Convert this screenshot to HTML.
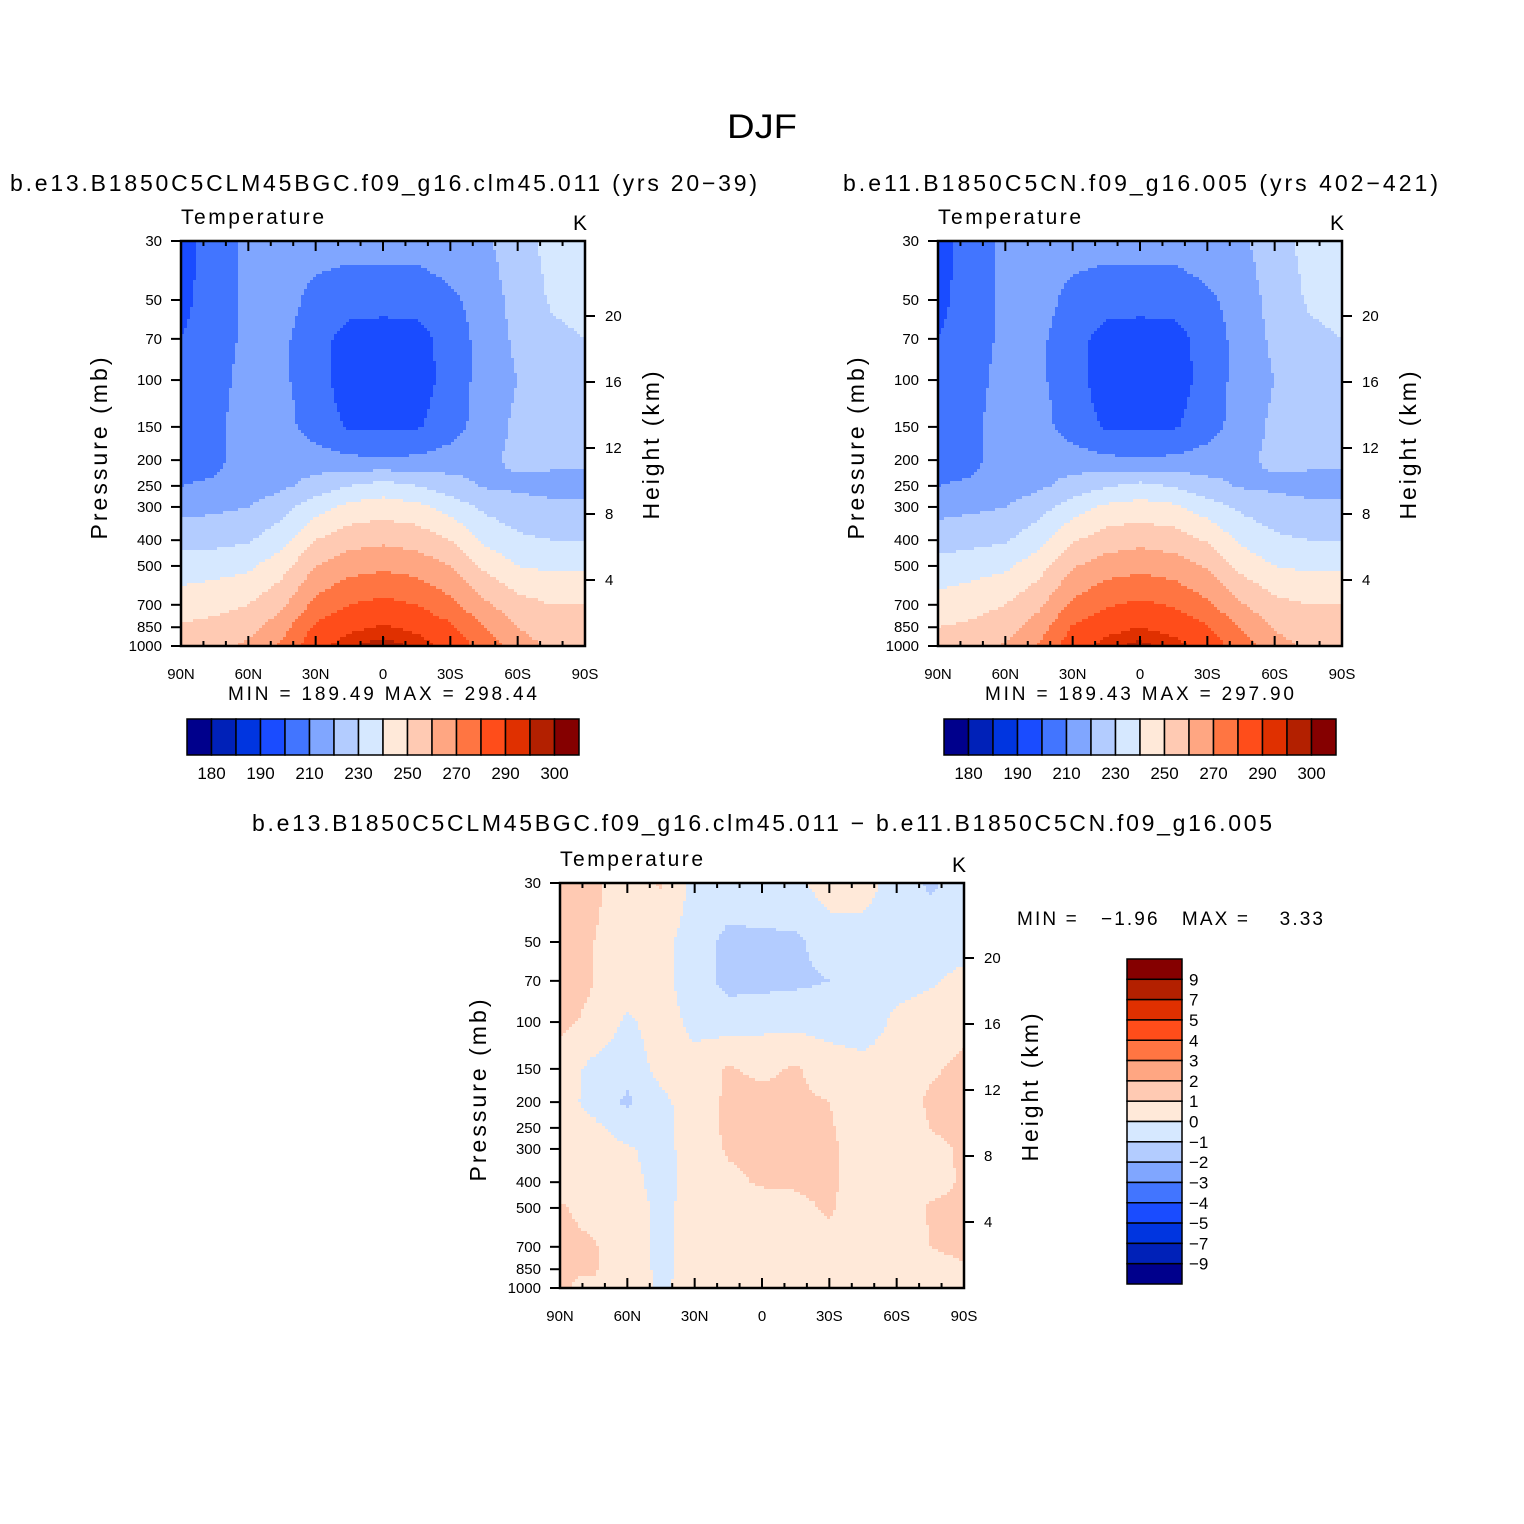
<!DOCTYPE html>
<html><head><meta charset="utf-8">
<style>
html,body{margin:0;padding:0;background:#fff;}
svg{display:block;font-family:"Liberation Sans","DejaVu Sans",sans-serif;}
</style></head>
<body>
<svg id="fig" width="1524" height="1524" viewBox="0 0 1524 1524" xmlns="http://www.w3.org/2000/svg">
<rect width="1524" height="1524" fill="#fff"/>
<text x="727" y="138" font-size="34" textLength="70" lengthAdjust="spacingAndGlyphs">DJF</text>
<text x="10" y="191" font-size="23" textLength="747" lengthAdjust="spacing">b.e13.B1850C5CLM45BGC.f09_g16.clm45.011 (yrs 20−39)</text>
<text x="843" y="191" font-size="23" textLength="595" lengthAdjust="spacing">b.e11.B1850C5CN.f09_g16.005 (yrs 402−421)</text>
<text x="252" y="831" font-size="23" textLength="1020" lengthAdjust="spacing">b.e13.B1850C5CLM45BGC.f09_g16.clm45.011 − b.e11.B1850C5CN.f09_g16.005</text>
<text x="228" y="700" font-size="19" textLength="309" lengthAdjust="spacing">MIN =  189.49   MAX =  298.44</text>
<text x="985" y="700" font-size="19" textLength="309" lengthAdjust="spacing">MIN =  189.43   MAX =  297.90</text>
<text x="1017" y="925" font-size="19" textLength="306" lengthAdjust="spacing" xml:space="preserve">MIN =   −1.96   MAX =    3.33</text>
</svg>
<script>
// ---- data ----
const lats = ["90N","75N","60N","45N","30N","15N","0","15S","30S","45S","60S","75S","90S"];
const levels = [30,50,70,100,150,200,250,300,400,500,700,850,1000];
const tempBounds = [180,185,190,200,210,220,230,240,250,260,270,280,290,295,300];
const tempBarLabels = ["180","190","210","230","250","270","290","300"];
const diffBounds = [-9,-7,-5,-4,-3,-2,-1,0,1,2,3,4,5,7,9];
const diffBarLabels = ["9","7","5","4","3","2","1","0","−1","−2","−3","−4","−5","−7","−9"];
const palette = ["#00008c","#0021b8","#0035e0","#1a4cff","#4275ff","#80a6ff","#b3ccff","#d6e8ff","#ffe9d9","#ffcab3","#ffa682","#ff7542","#ff4d1a","#e03000","#b32000","#850000"];
const pTicks = [30,50,70,100,150,200,250,300,400,500,700,850,1000];
const zTicks = [4,8,12,16,20];
const latTickLabels = ["90N","60N","30N","0","30S","60S","90S"];
const tempA = [
[196,205,212,214,214,214,214,214,216,218,226,233,235],
[197,205,212,214,207,204,204,204,208,214,224,231,233],
[200,206,212,212,204,196,195,196,204,214,222,228,230],
[205,207,213,212,204,195,192,195,204,214,220,226,226],
[206,208,214,214,205,199,199,199,205,215,222,224,224],
[207,208,214,216,215,212,211,212,215,218,222,222,222],
[210,211,214,218,224,230,234,230,224,219,218,217,217],
[217,218,220,226,236,243,245,243,236,228,224,222,222],
[226,227,229,236,250,256,258,256,250,238,232,230,230],
[235,236,238,246,260,266,268,266,260,248,240,238,238],
[245,247,250,258,273,280,283,280,273,262,254,250,250],
[251,253,256,266,282,288,291,288,282,270,260,254,253],
[254,257,262,272,287,294,298,294,287,276,265,258,256]];
const tempB = [
[196,205,212,214,214,214,214,214,216,218,226,233,235],
[197,205,212,214,207,204,204,204,208,214,224,231,233],
[200,206,212,212,204,196,195,196,204,214,222,228,230],
[205,207,213,212,204,195,192,195,204,214,220,226,226],
[206,208,214,214,205,199,199,199,205,215,222,224,224],
[207,208,214,216,215,212,211,212,215,218,222,222,222],
[210,211,214,218,224,229,233,229,223,219,218,217,217],
[217,218,220,226,235,242,244,242,235,228,224,222,222],
[225,227,229,236,249,255,257,255,249,238,232,230,230],
[234,236,238,246,259,265,267,265,259,247,240,238,238],
[244,246,250,258,272,279,282,279,272,261,253,250,250],
[250,252,256,265,281,287,290,287,281,269,259,254,253],
[253,256,261,271,286,293,297,293,286,275,264,258,256]];
const tempDiff = [
[1.5,1.2,0.5,1.1,-0.3,-0.3,-0.3,-0.2,0.5,0.3,-0.3,-1.2,-0.5],
[1.5,1.0,0.6,0.3,-0.5,-1.3,-1.2,-1.2,-0.5,-0.3,-0.3,-0.3,-0.3],
[1.5,1.0,0.6,0.3,-0.5,-1.3,-1.3,-1.2,-1.0,-0.4,-0.3,-0.1,0.2],
[1.2,0.8,-0.2,0.5,-0.3,-0.5,-0.3,-0.3,-0.4,-0.5,0.2,0.4,0.6],
[0.6,-0.3,-0.6,0.3,0.4,1.1,0.8,1.1,0.5,0.3,0.4,0.8,1.3],
[0.4,-0.3,-1.2,-0.2,0.4,1.2,1.3,1.2,1.0,0.5,0.3,1.2,1.8],
[0.5,0.2,-0.4,-0.3,0.5,1.2,1.2,1.2,1.1,0.5,0.3,1.0,1.3],
[0.5,0.4,0.1,-0.3,0.4,1.1,1.2,1.1,1.2,0.5,0.3,0.8,1.1],
[0.6,0.6,0.3,-0.3,0.3,0.8,1.1,1.1,1.2,0.5,0.3,0.7,1.1],
[1.1,0.7,0.4,-0.2,0.3,0.6,0.6,0.8,1.1,0.5,0.4,1.1,1.2],
[1.2,1.1,0.4,-0.2,0.3,0.5,0.5,0.6,0.8,0.5,0.4,1.0,1.2],
[1.0,1.1,0.5,-0.2,0.3,0.5,0.5,0.8,0.5,0.4,0.4,0.7,0.9],
[1.1,0.8,0.4,-0.1,0.3,0.4,0.4,0.5,0.4,0.3,0.3,0.6,0.8]];

const NS="http://www.w3.org/2000/svg";
const svg=document.getElementById('fig');
function mk(tag,attrs,parent){const e=document.createElementNS(NS,tag);for(const k in attrs)e.setAttribute(k,attrs[k]);(parent||svg).appendChild(e);return e;}
function colorIdx(v,b){let i=0;while(i<b.length&&v>=b[i])i++;return i;}

function panel(px,py,grid,bounds,name){
  const W=404,H=405;
  const g=mk('g',{});
  
  
  const xOf=lat=>px+(90-lat)/180*W;
  const yOf=p=>py+Math.log(p/30)/Math.log(1000/30)*H;
  const lv=levels.map(p=>Math.log(p));
  const step=3;
  for(let y=0;y<H;y+=step){
    const p=30*Math.exp((y+step/2)/H*Math.log(1000/30));
    const lp=Math.log(p);
    let r=0;while(r<levels.length-2&&lp>lv[r+1])r++;
    let fy=(lp-lv[r])/(lv[r+1]-lv[r]);fy=Math.max(0,Math.min(1,fy));
    let runStart=0,runC=-1;
    const flush=(x1)=>{if(runC<0)return;const rc=mk('rect',{x:px+runStart,y:py+y,width:x1-runStart+0.5,height:Math.min(step,H-y)+0.5,fill:palette[runC]},g);
      
      };
    for(let x=0;x<W;x+=step){
      const fxAll=(x+step/2)/W*(lats.length-1);
      let c=Math.min(lats.length-2,Math.floor(fxAll));const fx=fxAll-c;
      const v=(1-fy)*((1-fx)*grid[r][c]+fx*grid[r][c+1])+fy*((1-fx)*grid[r+1][c]+fx*grid[r+1][c+1]);
      const ci=colorIdx(v,bounds);
      if(ci!==runC){flush(x);runStart=x;runC=ci;}
    }
    flush(W);
  }
  const fr=mk('rect',{x:px,y:py,width:W,height:H,fill:'none',stroke:'#000','stroke-width':2.5},g);
  
  
  for(let lat=90;lat>=-90;lat-=10){
    const x=xOf(lat);const major=(lat%30===0);const L=major?10:5;
    mk('line',{x1:x,y1:py,x2:x,y2:py+L,stroke:'#000','stroke-width':2},g);
    mk('line',{x1:x,y1:py+H,x2:x,y2:py+H-L,stroke:'#000','stroke-width':2},g);
  }
  latTickLabels.forEach((t,i)=>{const tx=mk('text',{x:xOf(90-i*30),y:py+H+33,'font-size':15,'text-anchor':'middle'},g);tx.textContent=t;
    
    });
  pTicks.forEach(p=>{const y=yOf(p);mk('line',{x1:px-10,y1:y,x2:px,y2:y,stroke:'#000','stroke-width':2},g);
    const tx=mk('text',{x:px-19,y:y+5,'font-size':15,'text-anchor':'end'},g);tx.textContent=p;
    
    });
  zTicks.forEach(z=>{const y=yOf(1000*Math.exp(-z/7));mk('line',{x1:px+W,y1:y,x2:px+W+10,y2:y,stroke:'#000','stroke-width':2},g);
    const tx=mk('text',{x:px+W+20,y:y+5,'font-size':15},g);tx.textContent=z;
    
    });
  const t1=mk('text',{x:px,y:py-17,'font-size':21,textLength:143,lengthAdjust:'spacing'},g);t1.textContent='Temperature';
  
  
  const t2=mk('text',{x:px+W-12,y:py-11,'font-size':21},g);t2.textContent='K';
  
  
  const t3=mk('text',{x:0,y:0,'font-size':23,'text-anchor':'middle',textLength:182,lengthAdjust:'spacing',transform:`translate(${px-74},${py+H/2+5}) rotate(-90)`},g);t3.textContent='Pressure  (mb)';
  
  
  const t4=mk('text',{x:0,y:0,'font-size':23,'text-anchor':'middle',textLength:148,lengthAdjust:'spacing',transform:`translate(${px+W+74},${py+H/2+2}) rotate(-90)`},g);t4.textContent='Height  (km)';
  
  
}

function hbar(x0,y0){
  const w=392/16;
  const g=mk('g',{});
  
  
  palette.forEach((c,i)=>{const r=mk('rect',{x:x0+i*w,y:y0,width:w,height:36,fill:c,stroke:'#000','stroke-width':1.5},g);
    
    });
  tempBarLabels.forEach((t,i)=>{const tx=mk('text',{x:x0+(1+2*i)*w,y:y0+60,'font-size':17,'text-anchor':'middle'},g);tx.textContent=t;
    
    });
}
function vbar(x0,y0){
  const h=325/16;
  const g=mk('g',{});
  
  
  palette.slice().reverse().forEach((c,i)=>{const r=mk('rect',{x:x0,y:y0+i*h,width:55,height:h,fill:c,stroke:'#000','stroke-width':1.5},g);
    
    });
  diffBarLabels.forEach((t,i)=>{const tx=mk('text',{x:x0+62,y:y0+(i+1)*h+6,'font-size':17},g);tx.textContent=t;
    
    });
}
panel(181,241,tempA,tempBounds,'left-temperature-panel');
panel(938,241,tempB,tempBounds,'right-temperature-panel');
panel(560,883,tempDiff,diffBounds,'difference-panel');
hbar(187,719);
hbar(944,719);
vbar(1127,959);
</script>
</body></html>
